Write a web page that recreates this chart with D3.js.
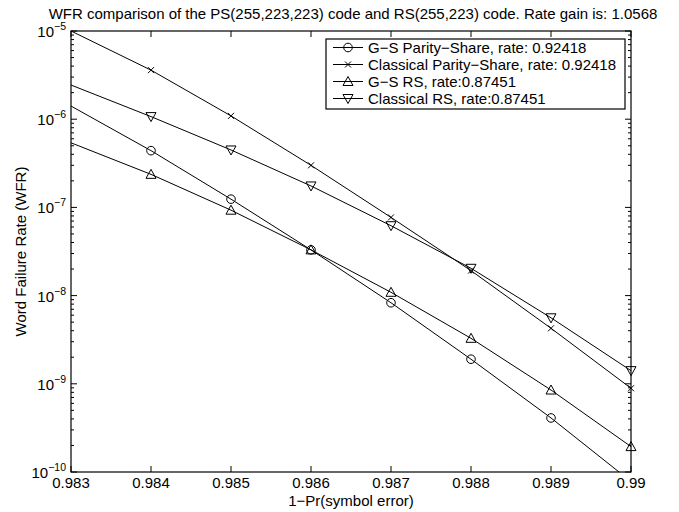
<!DOCTYPE html>
<html>
<head>
<meta charset="utf-8">
<script src="https://cdn.jsdelivr.net/npm/d3@7"></script>
<style>
body { margin: 0; background: #fff; }
text { font-family: "Liberation Sans", Arial, sans-serif; fill: #000; }
</style>
</head>
<body>
<svg id="chart" width="679" height="512"></svg>
<script>
"use strict";

// x values (1 - Pr(symbol error))
var xValues = [0.983, 0.984, 0.985, 0.986, 0.987, 0.988, 0.989, 0.990];

// word failure rates
var gsParityShare = [1.41e-6, 4.4e-7, 1.24e-7, 3.3e-8, 8.3e-9, 1.9e-9, 4.1e-10, 7.8e-11];
var classicalParityShare = [1.0e-5, 3.6e-6, 1.09e-6, 3.0e-7, 7.7e-8, 1.92e-8, 4.26e-9, 8.9e-10];
var gsRS = [5.4e-7, 2.37e-7, 9.3e-8, 3.3e-8, 1.09e-8, 3.28e-9, 8.5e-10, 1.94e-10];
var classicalRS = [2.44e-6, 1.07e-6, 4.48e-7, 1.75e-7, 6.2e-8, 2.04e-8, 5.6e-9, 1.41e-9];

var seriesNames = [
    "G\u2212S Parity\u2212Share, rate: 0.92418",
    "Classical Parity\u2212Share, rate: 0.92418",
    "G\u2212S RS, rate:0.87451",
    "Classical RS, rate:0.87451"
];
var seriesMarkers = ["circle", "cross", "up", "down"];

var xTicks = [0.983, 0.984, 0.985, 0.986, 0.987, 0.988, 0.989, 0.99];
var xTickLabels = ["0.983", "0.984", "0.985", "0.986", "0.987", "0.988", "0.989", "0.99"];
var yExponents = [-5, -6, -7, -8, -9, -10];

var titleText = "WFR comparison of the PS(255,223,223) code and RS(255,223) code. Rate gain is: 1.0568";
var xLabelText = "1\u2212Pr(symbol error)";
var yLabelText = "Word Failure Rate (WFR)";

var margin = {left: 71, top: 31, right: 48, bottom: 40};
var width = 679 - margin.left - margin.right;
var height = 512 - margin.top - margin.bottom;
var fontSize = 15;

var svg = d3.select("#chart");
var g = svg.append("g").attr("transform", "translate(" + margin.left + "," + margin.top + ")");

var x = d3.scaleLinear().domain([0.983, 0.99]).range([0, width]);
var y = d3.scaleLog().domain([1e-10, 1e-5]).range([height, 0]);

function drawMarker(sel, type) {
    if (type == "circle") {
        sel.append("circle").attr("r", 4.3)
            .attr("fill", "none").attr("stroke", "#000").attr("stroke-width", 1);
    } else if (type == "cross") {
        sel.append("path").attr("d", "M-3,-3L3,3M-3,3L3,-3")
            .attr("fill", "none").attr("stroke", "#000").attr("stroke-width", 1);
    } else if (type == "up") {
        sel.append("path").attr("d", "M0,-5L5,4L-5,4Z")
            .attr("fill", "none").attr("stroke", "#000").attr("stroke-width", 1);
    } else {
        sel.append("path").attr("d", "M0,5L5,-4L-5,-4Z")
            .attr("fill", "none").attr("stroke", "#000").attr("stroke-width", 1);
    }
}

// clip lines to the axes box
svg.append("defs").append("clipPath").attr("id", "plotClip")
    .append("rect").attr("width", width).attr("height", height);

var allSeries = [gsParityShare, classicalParityShare, gsRS, classicalRS];
var line = d3.line()
    .x(function(d) { return x(d.x); })
    .y(function(d) { return y(d.y); });

var plot = g.append("g").attr("clip-path", "url(#plotClip)");
allSeries.forEach(function(values, k) {
    var pts = xValues.map(function(xv, i) { return {x: xv, y: values[i]}; });
    plot.append("path").datum(pts)
        .attr("d", line)
        .attr("fill", "none").attr("stroke", "#000").attr("stroke-width", 1);
    // markers (the first point sits on the left edge, drawn without a marker)
    pts.filter(function(d) { return d.x > 0.9835 && d.y >= 1e-10; }).forEach(function(d) {
        var m = g.append("g").attr("transform", "translate(" + x(d.x) + "," + y(d.y) + ")");
        drawMarker(m, seriesMarkers[k]);
    });
});

// axes box
g.append("rect").attr("width", width).attr("height", height)
    .attr("fill", "none").attr("stroke", "#000").attr("stroke-width", 1.2);

// x ticks, bottom and top, pointing inward
var major = 6, minor = 3;
xTicks.forEach(function(t, i) {
    var px = x(t);
    g.append("line").attr("x1", px).attr("x2", px).attr("y1", height).attr("y2", height - major)
        .attr("stroke", "#000");
    g.append("line").attr("x1", px).attr("x2", px).attr("y1", 0).attr("y2", major)
        .attr("stroke", "#000");
    g.append("text").attr("x", px).attr("y", height + 16)
        .attr("text-anchor", "middle").attr("font-size", fontSize).text(xTickLabels[i]);
});

// y ticks, major and minor, both sides
yExponents.forEach(function(e) {
    var py = y(Math.pow(10, e));
    g.append("line").attr("x1", 0).attr("x2", major).attr("y1", py).attr("y2", py).attr("stroke", "#000");
    g.append("line").attr("x1", width).attr("x2", width - major).attr("y1", py).attr("y2", py).attr("stroke", "#000");
    var lab = g.append("text").attr("x", -5).attr("y", py + 6)
        .attr("text-anchor", "end").attr("font-size", fontSize);
    lab.append("tspan").text("10");
    lab.append("tspan").attr("dy", -7).attr("font-size", 10.5).text("\u2212" + (-e));
    if (e > -10) {
        for (var m = 2; m <= 9; m++) {
            var my = y(m * Math.pow(10, e - 1));
            g.append("line").attr("x1", 0).attr("x2", minor).attr("y1", my).attr("y2", my).attr("stroke", "#000");
            g.append("line").attr("x1", width).attr("x2", width - minor).attr("y1", my).attr("y2", my).attr("stroke", "#000");
        }
    }
});

// title and axis labels
svg.append("text").attr("x", margin.left + width / 2 + 2).attr("y", 19)
    .attr("text-anchor", "middle").attr("font-size", fontSize).text(titleText);
svg.append("text").attr("x", margin.left + width / 2).attr("y", 506)
    .attr("text-anchor", "middle").attr("font-size", fontSize).text(xLabelText);
svg.append("text")
    .attr("transform", "translate(26," + (margin.top + height / 2) + ") rotate(-90)")
    .attr("text-anchor", "middle").attr("font-size", fontSize).text(yLabelText);

// legend
var legend = svg.append("g").attr("transform", "translate(326,39)");
legend.append("rect").attr("width", 299).attr("height", 70)
    .attr("fill", "#fff").attr("stroke", "#000").attr("stroke-width", 1.2);
seriesNames.forEach(function(name, k) {
    var ly = 8.5 + k * 17;
    legend.append("line").attr("x1", 7).attr("x2", 37).attr("y1", ly).attr("y2", ly)
        .attr("stroke", "#000");
    var m = legend.append("g").attr("transform", "translate(22," + ly + ")");
    drawMarker(m, seriesMarkers[k]);
    legend.append("text").attr("x", 42).attr("y", ly + 5)
        .attr("font-size", fontSize).text(name);
});
</script>
</body>
</html>
